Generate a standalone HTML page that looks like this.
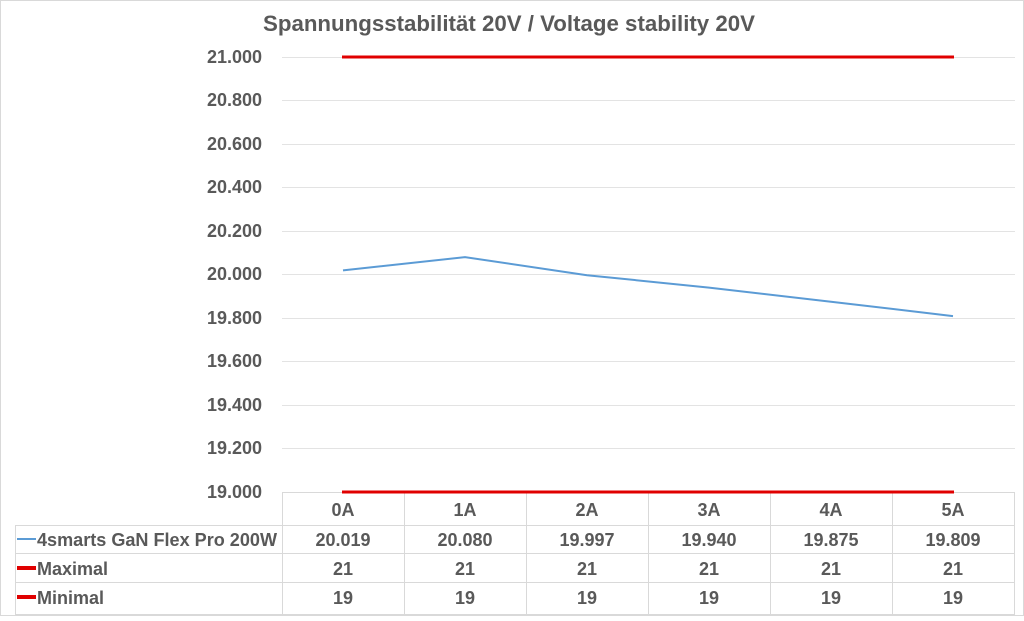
<!DOCTYPE html><html><head><meta charset="utf-8"><style>
body{margin:0;background:#fff;}
svg text{font-family:"Liberation Sans",sans-serif;font-weight:bold;fill:#595959;}
</style></head><body>
<svg width="1024" height="616" viewBox="0 0 1024 616" xmlns="http://www.w3.org/2000/svg">
<rect x="0.5" y="0.5" width="1023" height="615" fill="#fff" stroke="#d9d9d9"/>
<text x="509" y="31" font-size="22" text-anchor="middle" textLength="492" lengthAdjust="spacingAndGlyphs">Spannungsstabilität 20V / Voltage stability 20V</text>
<g stroke="#e3e3e3" stroke-width="1">
<line x1="282" x2="1015" y1="57.5" y2="57.5"/><line x1="282" x2="1015" y1="100.5" y2="100.5"/>
<line x1="282" x2="1015" y1="144.5" y2="144.5"/><line x1="282" x2="1015" y1="187.5" y2="187.5"/>
<line x1="282" x2="1015" y1="231.5" y2="231.5"/><line x1="282" x2="1015" y1="274.5" y2="274.5"/>
<line x1="282" x2="1015" y1="318.5" y2="318.5"/><line x1="282" x2="1015" y1="361.5" y2="361.5"/>
<line x1="282" x2="1015" y1="405.5" y2="405.5"/><line x1="282" x2="1015" y1="448.5" y2="448.5"/>
</g>
<g font-size="18" text-anchor="end">
<text x="262" y="63">21.000</text><text x="262" y="106">20.800</text><text x="262" y="150">20.600</text>
<text x="262" y="193">20.400</text><text x="262" y="237">20.200</text><text x="262" y="280">20.000</text>
<text x="262" y="324">19.800</text><text x="262" y="367">19.600</text><text x="262" y="411">19.400</text>
<text x="262" y="454">19.200</text><text x="262" y="498">19.000</text>
</g>
<g stroke="#d9d9d9" stroke-width="1" fill="none">
<line x1="282" x2="1015" y1="492.5" y2="492.5"/>
<line x1="15" x2="1015" y1="525.5" y2="525.5"/>
<line x1="15" x2="1015" y1="553.5" y2="553.5"/>
<line x1="15" x2="1015" y1="582.5" y2="582.5"/>
<line x1="15" x2="1015" y1="614.5" y2="614.5"/>
<line x1="15.5" x2="15.5" y1="525" y2="615"/>
<line x1="282.5" x2="282.5" y1="492" y2="615"/><line x1="404.5" x2="404.5" y1="492" y2="615"/>
<line x1="526.5" x2="526.5" y1="492" y2="615"/><line x1="648.5" x2="648.5" y1="492" y2="615"/>
<line x1="770.5" x2="770.5" y1="492" y2="615"/><line x1="892.5" x2="892.5" y1="492" y2="615"/>
<line x1="1014.5" x2="1014.5" y1="492" y2="615"/>
</g>
<line x1="342" x2="954" y1="57" y2="57" stroke="#e00000" stroke-width="3"/>
<line x1="342" x2="954" y1="492" y2="492" stroke="#e00000" stroke-width="3"/>
<polyline points="343,270.4 465,257.1 587,275.2 709,287.6 831,301.7 953,316.1" fill="none" stroke="#5b9bd5" stroke-width="2"/>
<g font-size="18" text-anchor="middle">
<text x="343" y="516">0A</text><text x="465" y="516">1A</text><text x="587" y="516">2A</text>
<text x="709" y="516">3A</text><text x="831" y="516">4A</text><text x="953" y="516">5A</text>
<text x="343" y="546">20.019</text><text x="465" y="546">20.080</text><text x="587" y="546">19.997</text>
<text x="709" y="546">19.940</text><text x="831" y="546">19.875</text><text x="953" y="546">19.809</text>
<text x="343" y="575">21</text><text x="465" y="575">21</text><text x="587" y="575">21</text>
<text x="709" y="575">21</text><text x="831" y="575">21</text><text x="953" y="575">21</text>
<text x="343" y="604">19</text><text x="465" y="604">19</text><text x="587" y="604">19</text>
<text x="709" y="604">19</text><text x="831" y="604">19</text><text x="953" y="604">19</text>
</g>
<line x1="17" x2="36" y1="539" y2="539" stroke="#5b9bd5" stroke-width="2"/>
<line x1="17" x2="36" y1="568" y2="568" stroke="#e00000" stroke-width="4"/>
<line x1="17" x2="36" y1="597" y2="597" stroke="#e00000" stroke-width="4"/>
<g font-size="18">
<text x="37" y="546" textLength="240" lengthAdjust="spacingAndGlyphs">4smarts GaN Flex Pro 200W</text>
<text x="37" y="575">Maximal</text>
<text x="37" y="604">Minimal</text>
</g>
</svg>
</body></html>
